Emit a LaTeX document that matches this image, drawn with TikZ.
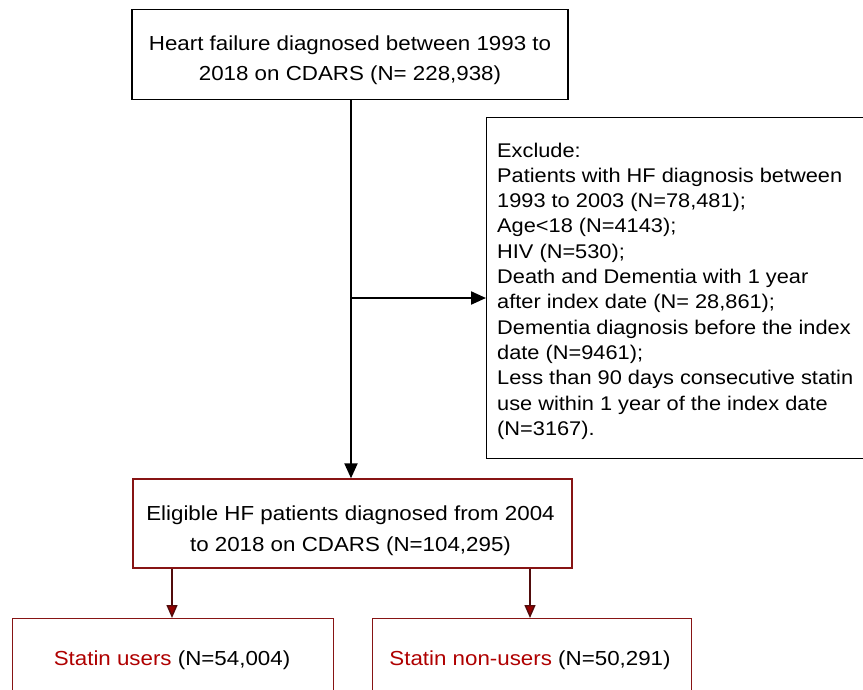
\documentclass[tikz,border=0pt]{standalone}
\usepackage{fontspec}
\setmainfont[FakeStretch=1.1]{Liberation Sans}
\usetikzlibrary{arrows.meta}
\definecolor{dred}{RGB}{135,20,20}
\definecolor{tred}{RGB}{175,0,0}
\tikzset{
  x=1pt,y=-1pt,
  blackbox/.style={draw=black,line width=1.4pt,inner sep=0pt},
  redbox/.style={draw=dred,line width=1.4pt,inner sep=0pt},
  boxtext/.style={inner sep=0pt,align=center,font=\fontsize{20.3}{29.5}\selectfont},
  blackarrow/.style={line width=2.2pt,-{Triangle[length=15pt,width=13pt]}},
  redarrow/.style={draw=black!40!dred,line width=1.4pt,-{Triangle[length=13pt,width=11pt,fill=tred!85!black]}},
}
\begin{document}
\begin{tikzpicture}
\useasboundingbox (0,0) rectangle (863,689);
\clip (0,0) rectangle (863,689);
% boxes
\node[blackbox,minimum width=436pt,minimum height=90pt] (hf) at (350,54.5) {};
\node[blackbox,minimum width=384pt,minimum height=341pt,anchor=north west] (exc) at (486,117) {};
\node[redbox,minimum width=439pt,minimum height=89pt] (elig) at (352.5,523.5) {};
\node[redbox,minimum width=321pt,minimum height=84pt,anchor=north west] (users) at (12,618) {};
\node[redbox,minimum width=319pt,minimum height=84pt,anchor=north west] (nonusers) at (372,618) {};
% texts
\node[boxtext] (hft) at (350,60) {Heart failure diagnosed between 1993 to\\2018 on CDARS (N= 228,938)};
\node[boxtext,anchor=north west,align=left,font=\fontsize{19.8}{25.3}\selectfont] (exct) at (497,142.5)
  {Exclude:\\
   Patients with HF diagnosis between\\
   1993 to 2003 (N=78,481);\\
   Age<18 (N=4143);\\
   HIV (N=530);\\
   Death and Dementia with 1 year\\
   after index date (N= 28,861);\\
   Dementia diagnosis before the index\\
   date (N=9461);\\
   Less than 90 days consecutive statin\\
   use within 1 year of the index date\\
   (N=3167).};
\node[boxtext,font=\fontsize{20.3}{31}\selectfont] (eligt) at (350.5,531)
  {Eligible HF patients diagnosed from 2004\\to 2018 on CDARS (N=104,295)};
\node[boxtext,anchor=base] (userst) at (172,665) {\textcolor{tred}{Statin users} (N=54,004)};
\node[boxtext,anchor=base] (nonuserst) at (530,665) {\textcolor{tred}{Statin non-users} (N=50,291)};
% connectors
\coordinate (j) at (351,298);
\draw[blackarrow] (hf.south -| j) -- (elig.north -| j);
\draw[blackarrow] (j) -- (exc.west |- j);
\draw[redarrow] (elig.south -| 172,0) -- (users.north -| 172,0);
\draw[redarrow] (elig.south -| 530,0) -- (nonusers.north -| 530,0);
\end{tikzpicture}
\end{document}
